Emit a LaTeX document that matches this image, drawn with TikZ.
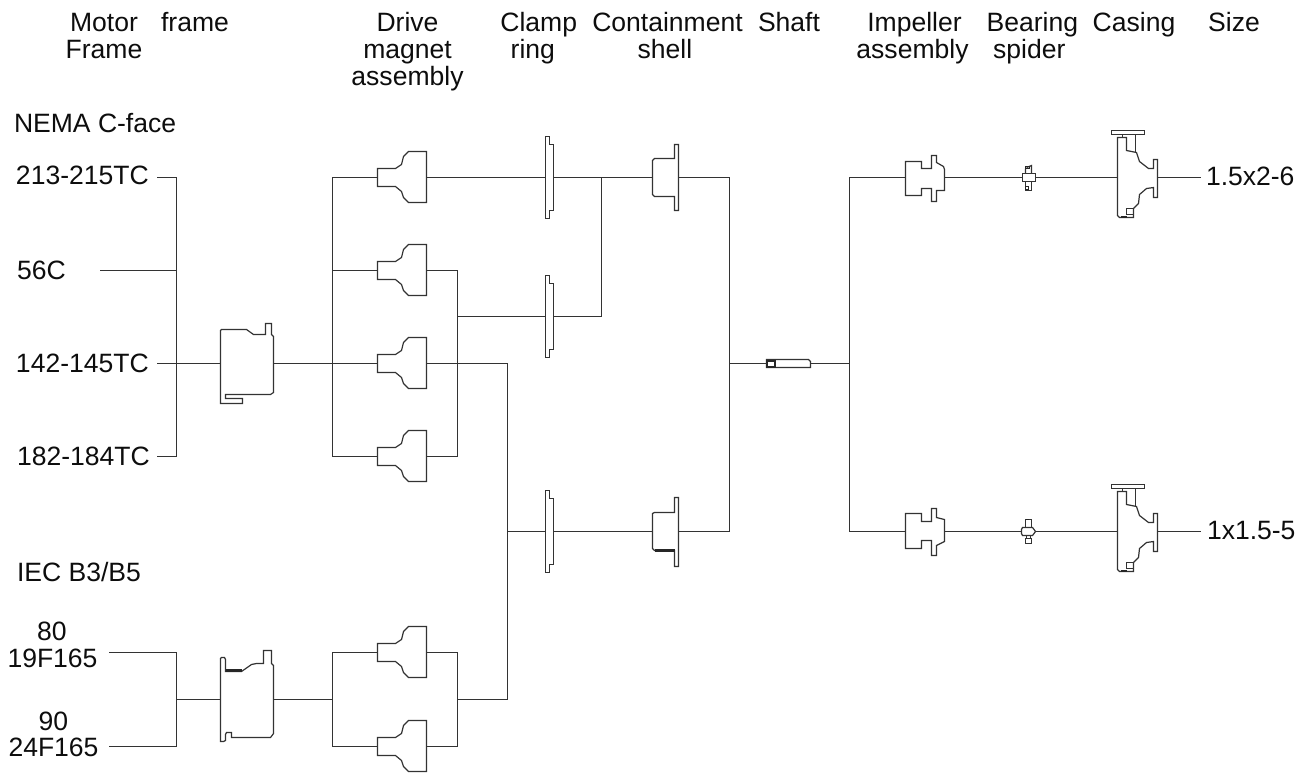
\documentclass[tikz,border=0pt]{standalone}
\usepackage{fontspec}
\setmainfont{Liberation Sans}
\newcommand{\lh}{\rule{0pt}{15pt}}
\tikzset{
  ln/.style={line width=0.9pt,color=black!80,line join=miter,line cap=butt},
  lnb/.style={line width=1.6pt,color=black!85},
  lab/.style={inner sep=0pt,outer sep=0pt,anchor=north,align=center,text=black!95,font=\fontsize{19.9}{20.25}\selectfont},
  labl/.style={lab,anchor=north west},
  pics/frameA/.style={code={
    \draw[ln] (0,-33)--(1,-34)--(26,-34)--(33,-29)--(45,-29)--(45,-40)--(51,-40)--(51,-29)--(53,-27)--(53,29)--(50,31)--(5,31)--(5,35)--(22,35)--(22,40)--(0,40)--cycle;
    \coordinate (-l) at (0,0); \coordinate (-r) at (53,0);}},
  pics/frameB/.style={code={
    \draw[ln] (0,-41)--(1,-42)--(4,-42)--(5,-40)--(5,-28)--(21,-28)--(31,-35)--(36,-36)--(43,-36)--(43,-49)--(51,-49)--(51,-36)--(53,-34)--(53,34)--(50,38)--(11,38)--(11,33)--(6,33)--(5,35)--(5,41)--(3,42)--(0,42)--cycle;
    \draw[lnb] (5,-29)--(21,-29);
    \coordinate (-l) at (0,0); \coordinate (-r) at (53,0);}},
  pics/drive/.style={code={
    \draw[ln] (0,-9)--(18,-9)--(24,-13)--(26,-21)--(31,-26)--(49,-26)--(49,25)--(31,25)--(26,20)--(24,14)--(18,9)--(0,9)--cycle;
    \coordinate (-l) at (0,0); \coordinate (-r) at (49,0);}},
  pics/clamp/.style={code={
    \draw[ln] (0,-41)--(4,-41)--(4,-33)--(8,-33)--(8,33)--(4,33)--(4,41)--(0,41)--cycle;
    \coordinate (-l) at (0,0); \coordinate (-r) at (8,0);}},
  pics/shellA/.style={code={
    \draw[ln] (0,-17)--(2,-19)--(22,-19)--(22,-33)--(26,-33)--(26,33)--(22,33)--(22,19)--(2,19)--(0,17)--cycle;
    \coordinate (-l) at (0,0); \coordinate (-r) at (26,0);}},
  pics/shellB/.style={code={
    \draw[ln] (0,-18)--(2,-19)--(22,-19)--(22,-34)--(26,-34)--(26,35)--(22,35)--(22,19)--(2,19)--(0,17)--cycle;
    \draw[lnb] (2,19)--(22,19);
    \coordinate (-l) at (0,0); \coordinate (-r) at (26,0);}},
  pics/shaftpart/.style={code={
    \draw[ln] (0,-4)--(42,-4)--(44,-2)--(44,4)--(0,4)--cycle;
    \draw[line width=1.5pt,color=black!85] (0,-3) rectangle (8,3);
    \coordinate (-l) at (0,0); \coordinate (-r) at (44,0);}},
  pics/impA/.style={code={
    \draw[ln] (0,-16)--(16,-16)--(16,-9)--(26,-9)--(26,-22)--(31,-22)--(31,-15)--(38,-11)--(39,-8)--(39,13)--(31,13)--(31,24)--(26,24)--(26,11)--(16,11)--(16,18)--(0,18)--cycle;
    \coordinate (-l) at (0,0); \coordinate (-r) at (39,0);}},
  pics/impB/.style={code={
    \draw[ln] (0,-18)--(16,-18)--(16,-10)--(26,-10)--(26,-23)--(31,-23)--(31,-14)--(39,-12)--(39,10)--(31,14)--(31,24)--(26,24)--(26,9)--(16,9)--(16,17)--(0,17)--cycle;
    \coordinate (-l) at (0,0); \coordinate (-r) at (39,0);}},
  pics/spiderA/.style={code={
    \draw[ln] (1,-4) rectangle (14,4);
    \draw[ln] (4,-4)--(4,-9) (10,-4)--(10,-12)--(5,-10);
    \draw[line width=1.4pt,color=black!85] (4,-9) rectangle (8,-11);
    \draw[ln] (4,4)--(4,13) (10,4)--(10,13)--(4,13);
    \draw[line width=1.4pt,color=black!85] (4,9) rectangle (7,12);
    \coordinate (-l) at (1,0); \coordinate (-r) at (14,0);}},
  pics/spiderB/.style={code={
    \draw[ln] (1,-4)--(11,-4)--(14,0)--(11,4)--(1,4)--(0,2)--(0,-2)--cycle;
    \draw[ln] (4,-4) rectangle (10,-12);
    \draw[ln] (4,7) rectangle (10,12);
    \draw[line width=1.3pt,color=black!85] (4,-12)--(7,-12);
    \draw[ln] (5,4)--(5,7) (9,4)--(9,7);
    \coordinate (-l) at (0,0); \coordinate (-r) at (14,0);}},
  pics/casing/.style={code={
    \draw[ln] (-6,-47) rectangle (27,-43);
    \draw[ln] (5,-43)--(5,-40) (18,-43)--(18,-25);
    \draw[ln] (0,-40)--(9,-40)--(9,-27)--(19,-25)--(22,-16)--(31,-9)--(36,-9)--(36,-18)--(40,-18)--(40,20)--(36,20)--(36,10)--(29,11)--(22,17)--(21,26)--(16,31)--(16,40)--(2,40)--(0,38)--cycle;
    \draw[ln] (9,31) rectangle (16,37);
    \draw[line width=1.5pt,color=black!85] (3,39.5)--(9,39.5);
    \coordinate (-l) at (0,0); \coordinate (-r) at (40,0);}}
}
\begin{document}
\begin{tikzpicture}[x=0.75pt,y=-0.75pt]
\useasboundingbox (0,0) rectangle (1307,772);
% column headings (y = baseline - 20)
\node[lab] (hMotor) at (104,11) {\lh Motor\\Frame};
\node[lab] (hFrame) at (195,11) {\lh frame};
\node[lab] (hDrive) at (407.5,11) {\lh Drive\\magnet\\assembly};
\node[lab] (hClamp) at (538.7,11) {\lh Clamp};
\node[lab] (hRing) at (532.8,38) {\lh ring};
\node[lab] (hCont) at (667.5,11) {\lh Containment};
\node[lab] (hShell) at (665,38) {\lh shell};
\node[lab] (hShaft) at (789,11) {\lh Shaft};
\node[lab] (hImp) at (914.5,11) {\lh Impeller};
\node[lab] (hAss) at (912.5,38) {\lh assembly};
\node[lab] (hBear) at (1032.3,11) {\lh Bearing};
\node[lab] (hSpid) at (1029.3,38) {\lh spider};
\node[lab] (hCas) at (1134,11) {\lh Casing};
\node[lab] (hSize) at (1234,11) {\lh Size};
% left and right labels
\node[labl] (tNema) at (14,112.7) {\lh NEMA C-face};
\node[labl] (t213) at (16,164) {\lh 213-215TC};
\node[labl] (t56) at (17,259) {\lh 56C};
\node[labl] (t142) at (16,352) {\lh 142-145TC};
\node[labl] (t182) at (17,445) {\lh 182-184TC};
\node[labl] (tIec) at (17,561.7) {\lh IEC B3/B5};
\node[lab] (t80) at (52,620.7) {\lh 80};
\node[lab] (t19) at (52.5,647.7) {\lh 19F165};
\node[lab] (t90) at (53.5,710.7) {\lh 90};
\node[lab] (t24) at (53.5,736.7) {\lh 24F165};
\node[labl] (tS1) at (1206,165) {\lh 1.5x2-6};
\node[labl] (tS2) at (1207,519) {\lh 1x1.5-5};
% parts
\pic (fa) at (220.5,363.5) {frameA};
\pic (fb) at (220.5,699.5) {frameB};
\pic (d1) at (377.5,177.5) {drive};
\pic (d2) at (377.5,270.5) {drive};
\pic (d3) at (377.5,363.5) {drive};
\pic (d4) at (377.5,456.5) {drive};
\pic (d5) at (377.5,652.5) {drive};
\pic (d6) at (377.5,746.5) {drive};
\pic (c1) at (545.5,177.5) {clamp};
\pic (c2) at (545.5,316.5) {clamp};
\pic (c3) at (545.5,531.5) {clamp};
\pic (s1) at (652.5,177.5) {shellA};
\pic (s2) at (652.5,531.5) {shellB};
\pic (sh) at (766.5,363.5) {shaftpart};
\pic (i1) at (905.5,177.5) {impA};
\pic (i2) at (905.5,531.5) {impB};
\pic (b1) at (1021.5,177.5) {spiderA};
\pic (b2) at (1021.5,531.5) {spiderB};
\pic (k1) at (1117.5,177.5) {casing};
\pic (k2) at (1117.5,531.5) {casing};
% free ends and junctions
\coordinate (e213) at (157,177.5);
\coordinate (e56) at (100,270.5);
\coordinate (e142) at (157,363.5);
\coordinate (e182) at (157,456.5);
\coordinate (e80) at (109,652.5);
\coordinate (e90) at (109,746.5);
\coordinate (eS1) at (1200.5,177.5);
\coordinate (eS2) at (1200.5,531.5);
\coordinate (busA) at (176.5,363.5);
\coordinate (busB) at (176.5,699.5);
\coordinate (busC) at (332.5,363.5);
\coordinate (busD) at (332.5,699.5);
\coordinate (busE) at (457.5,316.5);
\coordinate (busF) at (457.5,699.5);
\coordinate (busG) at (507.5,531.5);
\coordinate (busH) at (601.5,177.5);
\coordinate (busI) at (729.5,363.5);
\coordinate (busJ) at (849.5,363.5);
% connectors
\draw[ln] (e213) -| (busA);
\draw[ln] (e182) -| (busA);
\draw[ln] (e56) -- (e56 -| busA);
\draw[ln] (e142) -- (fa-l);
\draw[ln] (fa-r) -- (d3-l);
\draw[ln] (d1-l) -| (busC);
\draw[ln] (d4-l) -| (busC);
\draw[ln] (d2-l) -- (d2-l -| busC);
\draw[ln] (d2-r) -| (busE);
\draw[ln] (d4-r) -| (busE);
\draw[ln] (busE) -- (c2-l);
\draw[ln] (c2-r) -| (busH);
\draw[ln] (d1-r) -- (c1-l);
\draw[ln] (c1-r) -- (s1-l);
\draw[ln] (d3-r) -| (busG);
\draw[ln] (busG) -- (c3-l);
\draw[ln] (c3-r) -- (s2-l);
\draw[ln] (s1-r) -| (busI);
\draw[ln] (s2-r) -| (busI);
\draw[ln] (busI) -- (sh-l);
\draw[ln] (sh-r) -- (busJ);
\draw[ln] (i1-l) -| (busJ);
\draw[ln] (i2-l) -| (busJ);
\draw[ln] (i1-r) -- (b1-l);
\draw[ln] (b1-r) -- (k1-l);
\draw[ln] (k1-r) -- (eS1);
\draw[ln] (i2-r) -- (b2-l);
\draw[ln] (b2-r) -- (k2-l);
\draw[ln] (k2-r) -- (eS2);
\draw[ln] (e80) -| (busB);
\draw[ln] (e90) -| (busB);
\draw[ln] (busB) -- (fb-l);
\draw[ln] (fb-r) -- (busD);
\draw[ln] (d5-l) -| (busD);
\draw[ln] (d6-l) -| (busD);
\draw[ln] (d5-r) -| (busF);
\draw[ln] (d6-r) -| (busF);
\draw[ln] (busF) -| (busG);
\end{tikzpicture}
\end{document}
